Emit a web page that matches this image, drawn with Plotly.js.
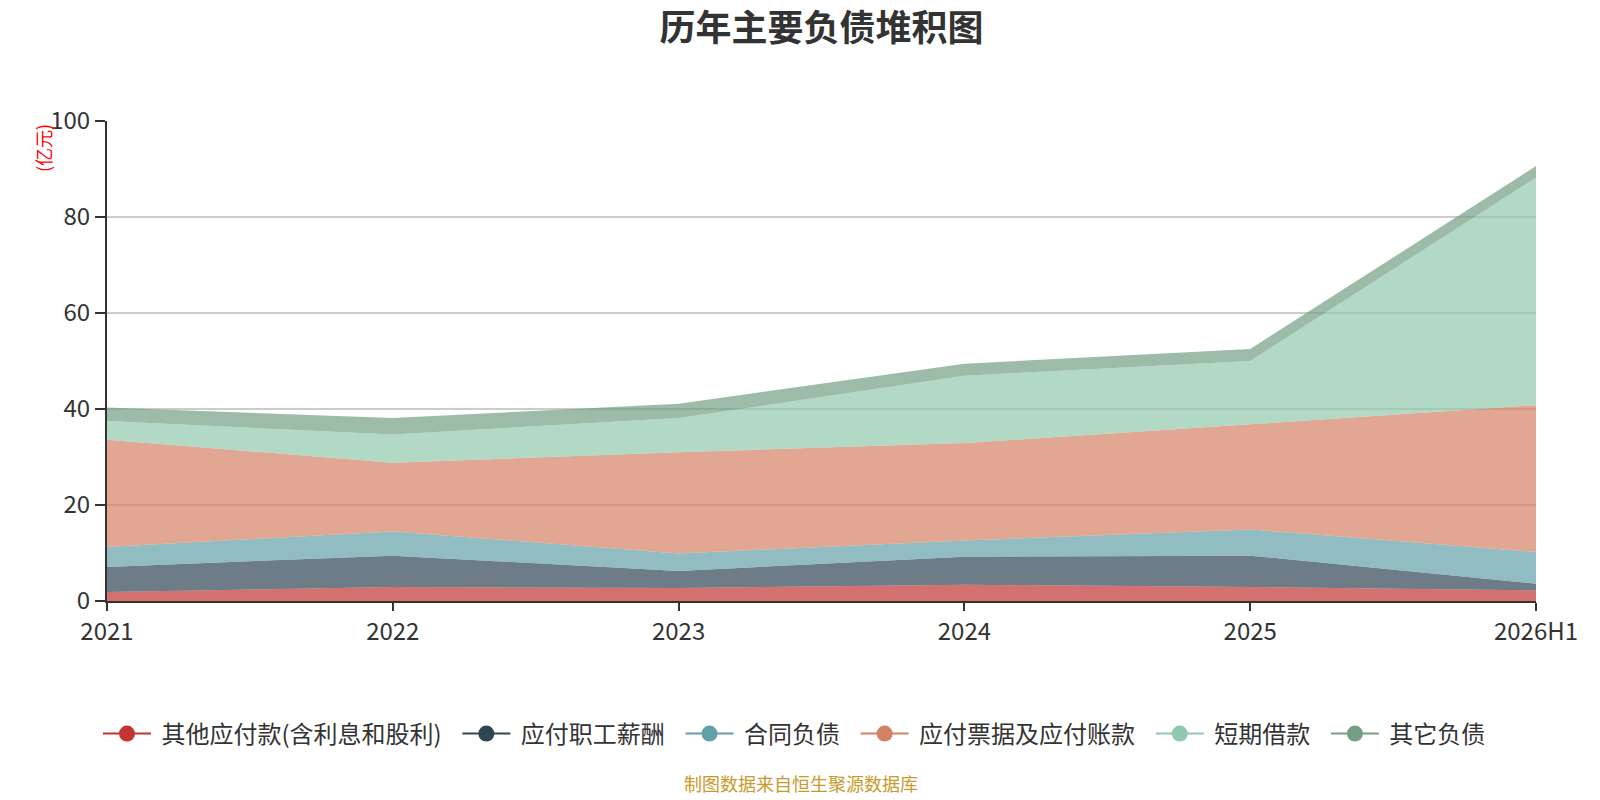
<!DOCTYPE html>
<html>
<head>
<meta charset="utf-8">
<script src="https://cdn.plot.ly/plotly-3.0.1.min.js"></script>
<style>
  html, body { margin: 0; padding: 0; background: #fff; }
  #chart { width: 1600px; height: 800px; }
</style>
</head>
<body>
<div id="chart"></div>
<script>
// 年份
const years = ["2021", "2022", "2023", "2024", "2025", "2026H1"];

// 各项负债（亿元），按堆积顺序
const otherPayables = [1.9, 2.9, 2.7, 3.4, 2.9, 2.2];      // 其他应付款(含利息和股利)
const staffPay = [5.2, 6.55, 3.55, 5.8, 6.55, 1.4];         // 应付职工薪酬
const contractLiab = [4.15, 5.05, 3.65, 3.4, 5.45, 6.6];    // 合同负债
const notesPayable = [22.35, 14.3, 21.1, 20.3, 21.9, 30.6]; // 应付票据及应付账款
const shortLoans = [3.9, 5.9, 7.1, 14.05, 13.2, 47.4];      // 短期借款
const otherLiab = [2.8, 3.4, 3.0, 2.5, 2.5, 2.4];           // 其它负债

const names = ["其他应付款(含利息和股利)", "应付职工薪酬", "合同负债", "应付票据及应付账款", "短期借款", "其它负债"];
const colors = ["#c23531", "#2f4554", "#61a0a8", "#d48265", "#91c7ae", "#749f83"];
const series = [otherPayables, staffPay, contractLiab, notesPayable, shortLoans, otherLiab];

const FONT = "'Noto Sans CJK SC', 'Microsoft YaHei', sans-serif";

// 颜色转半透明填充
const fade = (hex, a) => {
  const n = parseInt(hex.slice(1), 16);
  return `rgba(${(n >> 16) & 255},${(n >> 8) & 255},${n & 255},${a})`;
};

let data = [];

// 堆积面积
for (let i = 0; i < series.length; i++) {
  data.push({
    x: years,
    y: series[i],
    type: "scatter",
    mode: "lines",
    stackgroup: "one",
    fillcolor: fade(colors[i], 0.7),
    line: { width: 0, color: colors[i] },
    name: names[i],
    showlegend: false,
    hoverinfo: "x+y+name"
  });
}

// 图例（线+圆点），名字前后加不换行空格拉开间距
for (let i = 0; i < series.length; i++) {
  data.push({
    x: [null],
    y: [null],
    type: "scatter",
    mode: "lines+markers",
    name: "\u00a0" + names[i] + "\u00a0\u00a0",
    line: { color: colors[i], width: 2 },
    marker: { color: colors[i], size: 16, symbol: "circle" },
    showlegend: true
  });
}

const layout = {
  width: 1600,
  height: 800,
  paper_bgcolor: "#fff",
  plot_bgcolor: "#fff",
  font: { family: FONT, color: "#333" },
  margin: { l: 107, r: 64, t: 121, b: 199, pad: 0 },
  title: {
    text: "<b>历年主要负债堆积图</b>",
    font: { family: FONT, size: 36, color: "#333" },
    x: 0.5,
    xref: "paper",
    xanchor: "center",
    y: 1 - 28 / 800,
    yref: "container",
    yanchor: "middle"
  },
  xaxis: {
    type: "category",
    range: [0, years.length - 1],
    showgrid: false,
    showline: true,
    linecolor: "#333",
    linewidth: 2,
    ticks: "outside",
    ticklen: 8,
    tickwidth: 2,
    tickcolor: "#333",
    tickfont: { family: FONT, size: 24, color: "#333" },
    fixedrange: true
  },
  yaxis: {
    range: [0, 100],
    dtick: 20,
    tick0: 0,
    showgrid: true,
    gridcolor: "#cccccc",
    gridwidth: 2,
    zeroline: false,
    showline: true,
    linecolor: "#333",
    linewidth: 2,
    ticks: "outside",
    ticklen: 10,
    tickwidth: 2,
    tickcolor: "#333",
    tickfont: { family: FONT, size: 24, color: "#333" },
    fixedrange: true
  },
  legend: {
    orientation: "h",
    traceorder: "normal",
    xref: "container",
    yref: "container",
    x: 0.5,
    xanchor: "center",
    y: 1 - 734 / 800,
    yanchor: "middle",
    itemwidth: 48,
    font: { family: FONT, size: 24, color: "#333" },
    itemclick: false,
    itemdoubleclick: false
  },
  annotations: [
    {
      text: "(亿元)",
      textangle: -90,
      xref: "paper",
      yref: "paper",
      x: -64 / 1429,
      y: 1 - 27 / 480,
      xanchor: "center",
      yanchor: "middle",
      showarrow: false,
      font: { family: FONT, size: 18, color: "#ff0000" }
    },
    {
      text: "制图数据来自恒生聚源数据库",
      xref: "paper",
      yref: "paper",
      x: (801 - 107) / 1429,
      y: -(798 - 601) / 480,
      xanchor: "center",
      yanchor: "bottom",
      showarrow: false,
      font: { family: FONT, size: 18, color: "#c9992b" }
    }
  ],
  showlegend: true
};

Plotly.newPlot("chart", data, layout, { displayModeBar: false, staticPlot: true });
</script>
</body>
</html>
